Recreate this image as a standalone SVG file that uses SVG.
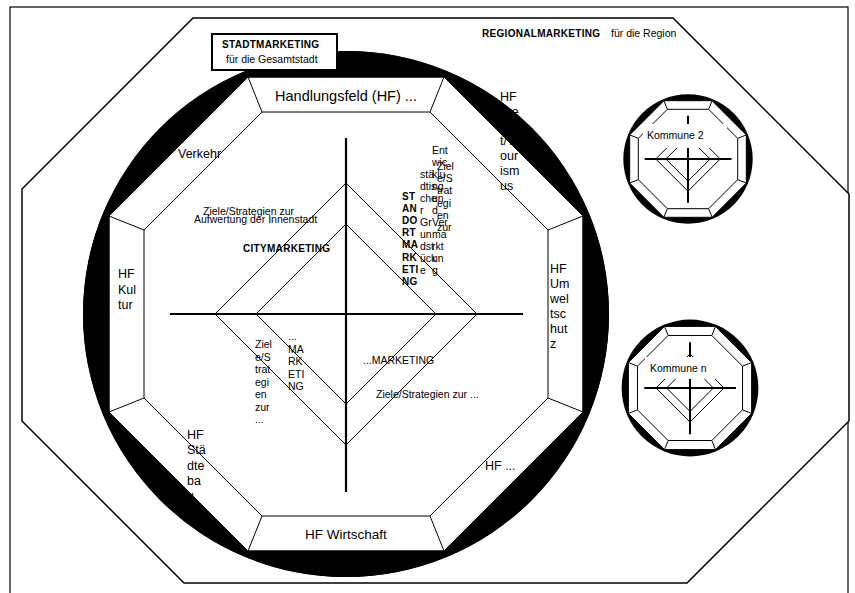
<svg xmlns="http://www.w3.org/2000/svg" width="855" height="593" viewBox="0 0 855 593">
<style>
.t{font-family:"Liberation Sans",Arial,sans-serif;fill:#000}
.s{font-size:12.5px}
.l{font-size:13.5px}
.m{font-size:10.5px}
.b{font-size:10px;font-weight:bold;letter-spacing:0.3px}
.ln{stroke:#000;stroke-width:1;fill:none}
.wf{stroke:#000;stroke-width:1;fill:#fff}
.nl{stroke:#000;stroke-width:1;fill:none;vector-effect:non-scaling-stroke}
.nwf{stroke:#000;stroke-width:1;fill:#fff;vector-effect:non-scaling-stroke}
.ax{stroke:#000;stroke-width:2.2;fill:none}
.nax{stroke:#000;stroke-width:2;fill:none;vector-effect:non-scaling-stroke}
</style>
<defs>
<g id="mini">
<circle cx="346" cy="314" r="263" fill="#000"/>
<polygon points="248,77 444,77 583,216 583,412 444,551 248,551 109,412 109,216" class="nwf"/>
<polygon points="262,112 430,112 548,230 548,398 430,516 262,516 144,398 144,230" class="nl"/>
<path class="nl" d="M248,77L262,112M444,77L430,112M583,216L548,230M583,412L548,398M444,551L430,516M248,551L262,516M109,412L144,398M109,216L144,230"/>
<path class="nl" d="M346,183L477,314L346,445L215,314ZM346,224L436,314L346,404L256,314Z"/>
<path class="nax" d="M170,314H523M346,138V492"/>
</g>
</defs>

<rect x="10" y="7" width="838" height="600" fill="#fff" stroke="#000" stroke-width="1.2"/>
<polygon id="region" points="193,18 673,18 849,194 849,421 687,583 184,583 22,421 22,189" fill="#fff" stroke="#000" stroke-width="1.5"/>

<g id="stadt">
<circle cx="346" cy="314" r="263" fill="#000"/>
<polygon points="248,77 444,77 583,216 583,412 444,551 248,551 109,412 109,216" class="wf"/>
</g>

<g id="connectors">
<polygon points="262,112 430,112 548,230 548,398 430,516 262,516 144,398 144,230" class="ln"/>
<path class="ln" d="M248,77L262,112M444,77L430,112M583,216L548,230M583,412L548,398M444,551L430,516M248,551L262,516M109,412L144,398M109,216L144,230"/>
<path class="ln" d="M346,183L477,314L346,445L215,314ZM346,224L436,314L346,404L256,314Z"/>
<path class="ax" d="M170,314H523M346,138V492"/>
</g>

<g id="hf-top"><text class="t" style="font-size:14.5px" x="346" y="101" text-anchor="middle">Handlungsfeld (HF) ...</text></g>
<g id="hf-bottom"><text class="t l" x="346" y="539" text-anchor="middle">HF Wirtschaft</text></g>
<g id="hf-verkehr"><text class="t s" x="178" y="158">Verkehr</text></g>
<g id="hf-kultur"><text class="t s" x="118" y="278"><tspan x="118">HF</tspan><tspan x="118" dy="15.5">Kul</tspan><tspan x="118" dy="15.5">tur</tspan></text></g>
<g id="hf-umwelt"><text class="t s" x="550" y="273"><tspan x="550">HF</tspan><tspan x="550" dy="15">Um</tspan><tspan x="550" dy="15">wel</tspan><tspan x="550" dy="15">tsc</tspan><tspan x="550" dy="15">hut</tspan><tspan x="550" dy="15">z</tspan></text></g>
<g id="hf-freizeit"><text class="t s" x="500" y="101"><tspan x="500">HF</tspan><tspan x="500" dy="14.8">Fre</tspan><tspan x="500" dy="14.8">izei</tspan><tspan x="500" dy="14.8">t/T</tspan><tspan x="500" dy="14.8">our</tspan><tspan x="500" dy="14.8">ism</tspan><tspan x="500" dy="14.8">us</tspan></text></g>
<g id="hf-staedtebau"><text class="t s" x="187" y="439"><tspan x="187">HF</tspan><tspan x="187" dy="15.3">Stä</tspan><tspan x="187" dy="15.3">dte</tspan><tspan x="187" dy="15.3">ba</tspan><tspan x="187" dy="15.3">u</tspan></text></g>
<g id="hf-dots"><text class="t s" x="485" y="470">HF ...</text></g>

<g id="city">
<text class="t m" x="203" y="215">Ziele/Strategien zur</text>
<text class="t m" x="194" y="223">Aufwertung der Innenstadt</text>
<text class="t b" x="243" y="252">CITYMARKETING</text>
</g>
<g id="standort">
<text class="t b" x="402" y="200"><tspan x="402">ST</tspan><tspan x="402" dy="12.1">AN</tspan><tspan x="402" dy="12.1">DO</tspan><tspan x="402" dy="12.1">RT</tspan><tspan x="402" dy="12.1">MA</tspan><tspan x="402" dy="12.1">RK</tspan><tspan x="402" dy="12.1">ETI</tspan><tspan x="402" dy="12.1">NG</tspan></text>
<text class="t m" x="437" y="170"><tspan x="437">Ziel</tspan><tspan x="437" dy="12.2">e/S</tspan><tspan x="437" dy="12.2">trat</tspan><tspan x="437" dy="12.2">egi</tspan><tspan x="437" dy="12.2">en</tspan><tspan x="437" dy="12.2">zur</tspan></text>
<text class="t m" x="432" y="154"><tspan x="432">Ent</tspan><tspan x="432" dy="12">wic</tspan><tspan x="432" dy="12">klu</tspan><tspan x="432" dy="12">ng</tspan><tspan x="432" dy="12">un</tspan><tspan x="432" dy="12">d</tspan><tspan x="432" dy="12">Ver</tspan><tspan x="432" dy="12">ma</tspan><tspan x="432" dy="12">rkt</tspan><tspan x="432" dy="12">un</tspan><tspan x="432" dy="12">g</tspan></text>
<text class="t m" x="420" y="178"><tspan x="420">stä</tspan><tspan x="420" dy="12">dtis</tspan><tspan x="420" dy="12">che</tspan><tspan x="420" dy="12">r</tspan><tspan x="420" dy="12">Gr</tspan><tspan x="420" dy="12">un</tspan><tspan x="420" dy="12">dst</tspan><tspan x="420" dy="12">ück</tspan><tspan x="420" dy="12">e</tspan></text>
</g>
<g id="dots-marketing-left">
<text class="t m" x="255" y="348"><tspan x="255">Ziel</tspan><tspan x="255" dy="12.5">e/S</tspan><tspan x="255" dy="12.5">trat</tspan><tspan x="255" dy="12.5">egi</tspan><tspan x="255" dy="12.5">en</tspan><tspan x="255" dy="12.5">zur</tspan><tspan x="255" dy="12.5">...</tspan></text>
<text class="t m" x="288" y="340"><tspan x="288">...</tspan><tspan x="288" dy="12.5">MA</tspan><tspan x="288" dy="12.5">RK</tspan><tspan x="288" dy="12.5">ETI</tspan><tspan x="288" dy="12.5">NG</tspan></text>
</g>
<g id="dots-marketing-right">
<text class="t m" x="363" y="364">...MARKETING</text>
<text class="t m" x="376" y="398">Ziele/Strategien zur ...</text>
</g>

<path fill="#000" fill-rule="evenodd" d="M83,314a263,263 0 1,0 526,0a263,263 0 1,0 -526,0ZM248,77L444,77L583,216L583,412L444,551L248,551L109,412L109,216Z"/>
<polygon points="248,77 444,77 583,216 583,412 444,551 248,551 109,412 109,216" class="ln"/>

<g id="stadtmarketing-label">
<rect x="212" y="34" width="125" height="36" fill="#fff" stroke="#000" stroke-width="2"/>
<text class="t b" x="222" y="48">STADTMARKETING</text>
<text class="t m" x="226" y="63">für die Gesamtstadt</text>
</g>
<g id="regional-label">
<text class="t b" x="482" y="37">REGIONALMARKETING</text>
<text class="t m" x="611" y="37">für die Region</text>
</g>

<g id="kommune2">
<use href="#mini" transform="translate(688,159) scale(0.246) translate(-346,-314)"/>
<rect x="643" y="124" width="84" height="24" fill="#fff"/>
<text class="t m" x="647" y="139">Kommune 2</text>
</g>
<g id="kommunen">
<use href="#mini" transform="translate(690,388) scale(0.26) translate(-346,-314)"/>
<rect x="645" y="357" width="86" height="22" fill="#fff"/>
<text class="t m" x="650" y="372">Kommune n</text>
</g>
</svg>
